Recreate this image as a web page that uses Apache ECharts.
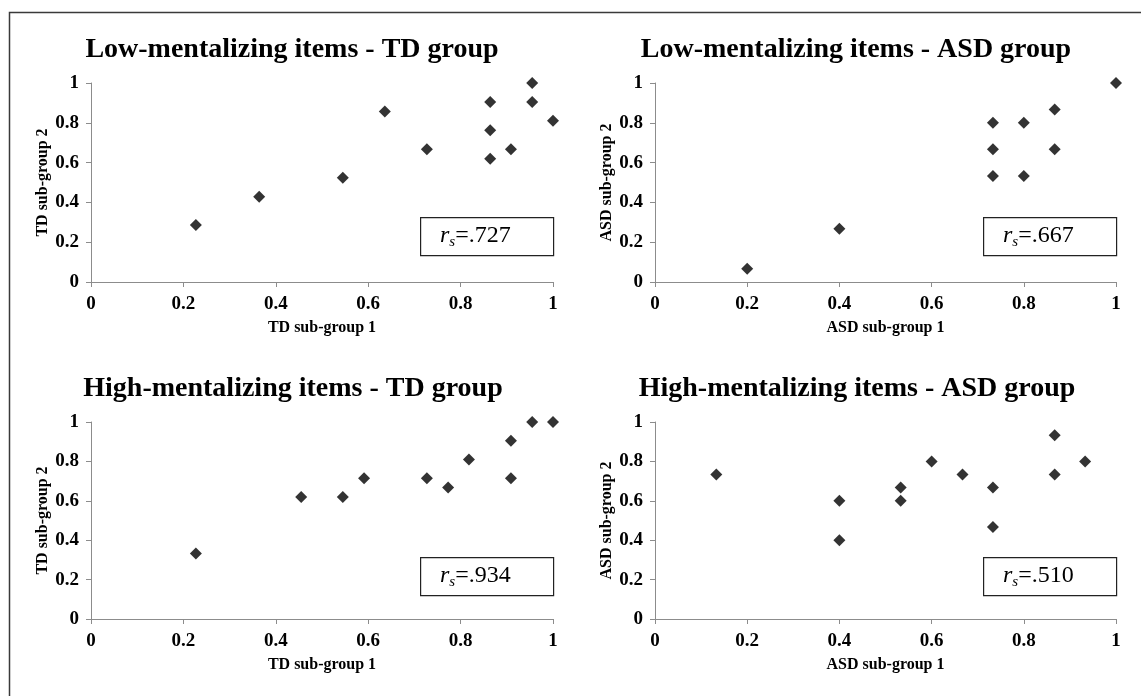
<!DOCTYPE html>
<html>
<head>
<meta charset="utf-8">
<script src="https://cdn.jsdelivr.net/npm/echarts@6/dist/echarts.min.js"></script>
<style>
  html, body { margin: 0; padding: 0; background: #fff; }
  #main { width: 1141px; height: 696px; }
</style>
</head>
<body>
<div id="main"></div>
<script>
// values
var lowTdX = [0.227, 0.364, 0.545, 0.636, 0.727, 0.864, 0.864, 0.864, 0.909, 0.955, 0.955, 1];
var lowTdY = [0.286, 0.429, 0.524, 0.857, 0.667, 0.905, 0.762, 0.619, 0.667, 1, 0.905, 0.810];

var lowAsdX = [0.2, 0.4, 0.733, 0.733, 0.733, 0.8, 0.8, 0.867, 0.867, 1];
var lowAsdY = [0.067, 0.267, 0.8, 0.667, 0.533, 0.8, 0.533, 0.867, 0.667, 1];

var highTdX = [0.227, 0.455, 0.545, 0.591, 0.727, 0.773, 0.818, 0.909, 0.909, 0.955, 1];
var highTdY = [0.333, 0.619, 0.619, 0.714, 0.714, 0.667, 0.810, 0.905, 0.714, 1, 1];

var highAsdX = [0.133, 0.4, 0.4, 0.533, 0.533, 0.6, 0.667, 0.733, 0.733, 0.867, 0.867, 0.933];
var highAsdY = [0.733, 0.6, 0.4, 0.667, 0.6, 0.8, 0.733, 0.667, 0.467, 0.933, 0.733, 0.8];

var titles = ['Low-mentalizing items - TD group', 'Low-mentalizing items - ASD group',
              'High-mentalizing items - TD group', 'High-mentalizing items - ASD group'];
var xNames = ['TD sub-group 1', 'ASD sub-group 1', 'TD sub-group 1', 'ASD sub-group 1'];
var yNames = ['TD sub-group 2', 'ASD sub-group 2', 'TD sub-group 2', 'ASD sub-group 2'];
var rsText = ['.727', '.667', '.934', '.510'];

var font = 'Liberation Serif';

function pairs(xs, ys) {
  var out = [];
  for (var i = 0; i < xs.length; i++) out.push([xs[i], ys[i]]);
  return out;
}

var panels = [
  {left: 91, top: 83, width: 462, height: 199, cx: 287, ty: 31, yGap: 40, data: pairs(lowTdX, lowTdY)},
  {left: 655, top: 83, width: 461, height: 199, cx: 851, ty: 31, yGap: 38, data: pairs(lowAsdX, lowAsdY)},
  {left: 91, top: 422, width: 462, height: 197, cx: 288, ty: 370, yGap: 40, data: pairs(highTdX, highTdY)},
  {left: 655, top: 422, width: 461, height: 197, cx: 852, ty: 370, yGap: 38, data: pairs(highAsdX, highAsdY)}
];

var grid = [], xAxis = [], yAxis = [], series = [], title = [];
var graphic = [{
  type: 'rect', left: 7, top: 10, silent: true,
  shape: {x: 0, y: 0, width: 1300, height: 900},
  style: {fill: 'none', stroke: '#3a3a3a', lineWidth: 1.5}
}];

panels.forEach(function (p, i) {
  grid.push({left: p.left, top: p.top, width: p.width, height: p.height});
  var axisCommon = {
    type: 'value', gridIndex: i, min: 0, max: 1, interval: 0.2,
    splitLine: {show: false},
    axisLine: {show: true, lineStyle: {color: '#8c8c8c', width: 1}},
    axisTick: {show: true, length: 5, lineStyle: {color: '#8c8c8c'}},
    axisLabel: {color: '#000', fontFamily: font, fontWeight: 'bold', fontSize: 19},
    nameLocation: 'middle',
    nameTextStyle: {color: '#000', fontFamily: font, fontWeight: 'bold', fontSize: 16}
  };
  var xa = JSON.parse(JSON.stringify(axisCommon));
  xa.name = xNames[i];
  xa.nameGap = 38;
  xa.axisLabel.margin = 13;
  xAxis.push(xa);
  var ya = JSON.parse(JSON.stringify(axisCommon));
  ya.name = yNames[i];
  ya.nameGap = p.yGap;
  ya.axisLabel.margin = 12;
  yAxis.push(ya);
  series.push({
    type: 'scatter', xAxisIndex: i, yAxisIndex: i,
    symbol: 'diamond', symbolSize: 12,
    itemStyle: {color: '#000'},
    data: p.data
  });
  title.push({
    text: titles[i], left: p.cx, top: p.ty, textAlign: 'center',
    textStyle: {fontFamily: font, fontWeight: 'bold', fontSize: 28, color: '#000'}
  });
  // r_s annotation box
  var bx = p.left + p.width - 133;
  var by = p.top + p.height - 65 + (i > 1 ? 3 : 0);
  graphic.push({
    type: 'rect', left: bx, top: by, silent: true,
    shape: {x: 0, y: 0, width: 133, height: 38},
    style: {fill: '#fff', stroke: '#222', lineWidth: 1.2}
  });
  graphic.push({
    type: 'text', left: bx + 20, top: by + 7, silent: true,
    style: {
      text: '{r|r}{s|s}{n|=' + rsText[i] + '}',
      rich: {
        r: {fontFamily: font, fontStyle: 'italic', fontSize: 24, fill: '#000'},
        s: {fontFamily: font, fontStyle: 'italic', fontSize: 15, fill: '#000', padding: [12, 0, 0, 0]},
        n: {fontFamily: font, fontSize: 24, fill: '#000'}
      }
    }
  });
});

var myChart = echarts.init(document.getElementById('main'));
myChart.setOption({
  animation: false,
  backgroundColor: '#fff',
  title: title,
  grid: grid,
  xAxis: xAxis,
  yAxis: yAxis,
  series: series,
  graphic: graphic
});
</script>
</body>
</html>
